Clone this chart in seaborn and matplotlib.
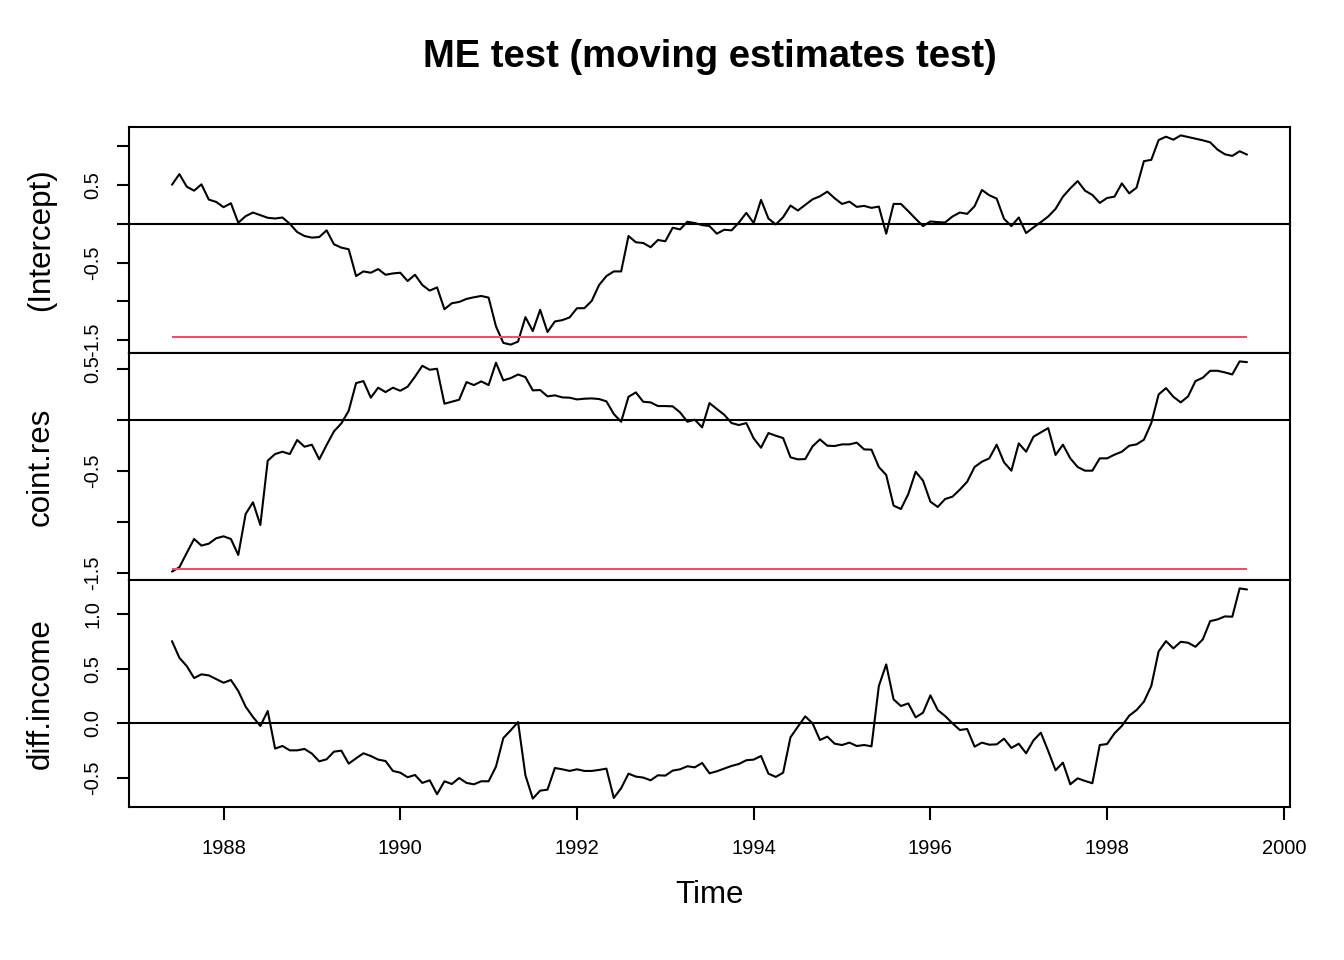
import numpy as np
import pandas as pd
import matplotlib
matplotlib.use("Agg")
import matplotlib.pyplot as plt
import seaborn as sns

# moving estimates process, monthly from June 1987
intercept = [
    0.504, 0.641, 0.479, 0.427, 0.509, 0.312, 0.282, 0.214, 0.265, 0.013,
    0.098, 0.145, 0.111, 0.077, 0.068, 0.081, 0.000, -0.107, -0.158, -0.179,
    -0.171, -0.085, -0.265, -0.308, -0.329, -0.675, -0.615, -0.632, -0.585, -0.658,
    -0.641, -0.632, -0.739, -0.658, -0.791, -0.863, -0.821, -1.103, -1.026, -1.009,
    -0.970, -0.949, -0.932, -0.953, -1.325, -1.538, -1.560, -1.521, -1.205, -1.385,
    -1.111, -1.397, -1.261, -1.244, -1.209, -1.090, -1.090, -0.996, -0.791, -0.675,
    -0.615, -0.615, -0.158, -0.239, -0.248, -0.303, -0.209, -0.226, -0.051, -0.073,
    0.026, 0.009, -0.017, -0.030, -0.128, -0.077, -0.085, 0.017, 0.141, 0.009,
    0.308, 0.068, -0.009, 0.085, 0.235, 0.171, 0.244, 0.316, 0.355, 0.415,
    0.329, 0.256, 0.286, 0.218, 0.231, 0.205, 0.222,
    -0.128, 0.256, 0.256, 0.162, 0.064, -0.030, 0.030, 0.021, 0.017, 0.094,
    0.145, 0.128, 0.226, 0.436, 0.368, 0.325, 0.064, -0.030, 0.081, -0.120,
    -0.047, 0.021, 0.094, 0.192, 0.350, 0.457, 0.551, 0.427, 0.372, 0.269,
    0.333, 0.350, 0.521, 0.393, 0.466, 0.808, 0.825, 1.081, 1.124, 1.085,
    1.141, 1.120, 1.098, 1.077, 1.051, 0.957, 0.897, 0.876, 0.936, 0.893,
]
coint_res = [
    -1.490, -1.448, -1.307, -1.170, -1.235, -1.216, -1.163, -1.144, -1.170, -1.327,
    -0.925, -0.810, -1.033, -0.402, -0.337, -0.314, -0.337, -0.199, -0.265, -0.245,
    -0.389, -0.248, -0.114, -0.036, 0.088, 0.359, 0.379, 0.216, 0.314, 0.271,
    0.314, 0.284, 0.324, 0.422, 0.529, 0.490, 0.500, 0.157, 0.176, 0.196,
    0.369, 0.340, 0.376, 0.340, 0.559, 0.386, 0.408, 0.444, 0.418, 0.288,
    0.291, 0.229, 0.239, 0.219, 0.216, 0.199, 0.206, 0.209, 0.203, 0.180,
    0.056, -0.020, 0.225, 0.268, 0.176, 0.170, 0.134, 0.134, 0.131, 0.072,
    -0.020, 0.000, -0.075, 0.163, 0.105, 0.049, -0.033, -0.052, -0.033, -0.183,
    -0.275, -0.131, -0.157, -0.180, -0.369, -0.389, -0.386, -0.261, -0.193, -0.255,
    -0.258, -0.242, -0.242, -0.225, -0.291, -0.294, -0.464,
    -0.542, -0.843, -0.876, -0.729, -0.510, -0.598, -0.804, -0.856, -0.778, -0.755,
    -0.686, -0.608, -0.464, -0.412, -0.379, -0.245, -0.418, -0.500, -0.232, -0.314,
    -0.167, -0.124, -0.082, -0.346, -0.245, -0.379, -0.464, -0.500, -0.500, -0.379,
    -0.379, -0.343, -0.314, -0.255, -0.242, -0.196, -0.033, 0.248, 0.310, 0.225,
    0.170, 0.229, 0.379, 0.412, 0.480, 0.480, 0.464, 0.444, 0.572, 0.565,
]
diff_income = [
    0.755, 0.602, 0.526, 0.416, 0.450, 0.440, 0.407, 0.373, 0.398, 0.297,
    0.153, 0.058, -0.024, 0.113, -0.232, -0.208, -0.248, -0.248, -0.235, -0.278,
    -0.349, -0.330, -0.260, -0.251, -0.370, -0.321, -0.275, -0.300, -0.333, -0.346,
    -0.437, -0.453, -0.495, -0.474, -0.547, -0.523, -0.651, -0.532, -0.557, -0.502,
    -0.547, -0.560, -0.532, -0.532, -0.398, -0.135, -0.064, 0.012, -0.477, -0.691,
    -0.618, -0.609, -0.410, -0.422, -0.437, -0.422, -0.437, -0.437, -0.428, -0.416,
    -0.685, -0.596, -0.462, -0.489, -0.498, -0.523, -0.477, -0.480, -0.434, -0.422,
    -0.394, -0.404, -0.364, -0.459, -0.440, -0.416, -0.391, -0.373, -0.339, -0.333,
    -0.300, -0.462, -0.492, -0.453, -0.128, -0.031, 0.064, 0.000, -0.153, -0.122,
    -0.187, -0.199, -0.177, -0.208, -0.199, -0.211, 0.343,
    0.541, 0.220, 0.159, 0.183, 0.055, 0.098, 0.257, 0.122, 0.067, 0.000,
    -0.061, -0.052, -0.214, -0.177, -0.196, -0.193, -0.141, -0.226, -0.187, -0.275,
    -0.156, -0.086, -0.254, -0.431, -0.361, -0.560, -0.505, -0.529, -0.550, -0.199,
    -0.190, -0.092, -0.024, 0.070, 0.122, 0.199, 0.343, 0.661, 0.755, 0.688,
    0.749, 0.740, 0.703, 0.771, 0.939, 0.954, 0.982, 0.979, 1.239, 1.229,
]
panel_names = ['(Intercept)', 'coint.res', 'diff.income']
boundary = -1.46  # lower 5% boundary (only drawn where it falls inside the panel)
year_ticks = [1988, 1990, 1992, 1994, 1996, 1998, 2000]

# time index: ts(start = c(1987, 6), frequency = 12)
time = 1987 + 5 / 12 + np.arange(len(intercept)) / 12
df = pd.DataFrame({'time': time, '(Intercept)': intercept,
                   'coint.res': coint_res, 'diff.income': diff_income})

sns.set_theme(style="ticks", rc={
    'axes.edgecolor': 'black', 'axes.linewidth': 1.5,
    'xtick.color': 'black', 'ytick.color': 'black',
    'text.color': 'black', 'axes.labelcolor': 'black',
    'xtick.major.size': 9, 'ytick.major.size': 9,
    'xtick.major.width': 1.5, 'ytick.major.width': 1.5,
})
plt.rcParams['font.family'] = ['Liberation Sans', 'DejaVu Sans']

fig = plt.figure(figsize=(13.44, 9.6), dpi=100)

# panel boxes in figure fractions (left, bottom, width, height)
left, width = 129 / 1344, 1161 / 1344
tops = [127, 353, 580]
bottoms = [353, 580, 807]

ytick_sets = {
    '(Intercept)': ([-1.5, -1.0, -0.5, 0.0, 0.5, 1.0], ['-1.5', '', '-0.5', '', '0.5', '']),
    'coint.res': ([-1.5, -1.0, -0.5, 0.0, 0.5], ['-1.5', '', '-0.5', '', '0.5']),
    'diff.income': ([-0.5, 0.0, 0.5, 1.0], ['-0.5', '0.0', '0.5', '1.0']),
}

xr = time[-1] - time[0]
axes = []
for i, name in enumerate(panel_names):
    ax = fig.add_axes([left, 1 - bottoms[i] / 960, width, (bottoms[i] - tops[i]) / 960])
    sns.lineplot(data=df, x='time', y=name, ax=ax, color='black', linewidth=1.5)
    ax.axhline(0, color='black', linewidth=1.5)
    lo, hi = df[name].min(), df[name].max()
    pad = 0.04 * (hi - lo)
    ax.set_ylim(lo - pad, hi + pad)
    if lo - pad < boundary:
        ax.hlines(boundary, time[0], time[-1], color='#DF536B', linewidth=1.5)
    ax.set_xlim(time[0] - 0.04 * xr, time[-1] + 0.04 * xr)
    ticks, labels = ytick_sets[name]
    ax.set_yticks(ticks)
    ax.set_yticklabels(labels, rotation=90, va='center')
    ax.tick_params(axis='y', labelsize=14.5, pad=10)
    ax.set_ylabel(name, fontsize=22.5, labelpad=20)
    if i < 2:
        ax.tick_params(axis='x', bottom=False, labelbottom=False)
        ax.set_xlabel('')
    else:
        ax.set_xticks(year_ticks)
        ax.set_xticklabels([str(y) for y in year_ticks])
        ax.tick_params(axis='x', labelsize=14.5, pad=14)
        ax.set_xlabel('Time', fontsize=22.5, labelpad=16)
    axes.append(ax)

fig.suptitle('ME test (moving estimates test)', x=709.5 / 1344, y=1 - 57 / 960,
             va='center', fontsize=27.5, fontweight='bold')

fig.savefig('out.png', dpi=100)
